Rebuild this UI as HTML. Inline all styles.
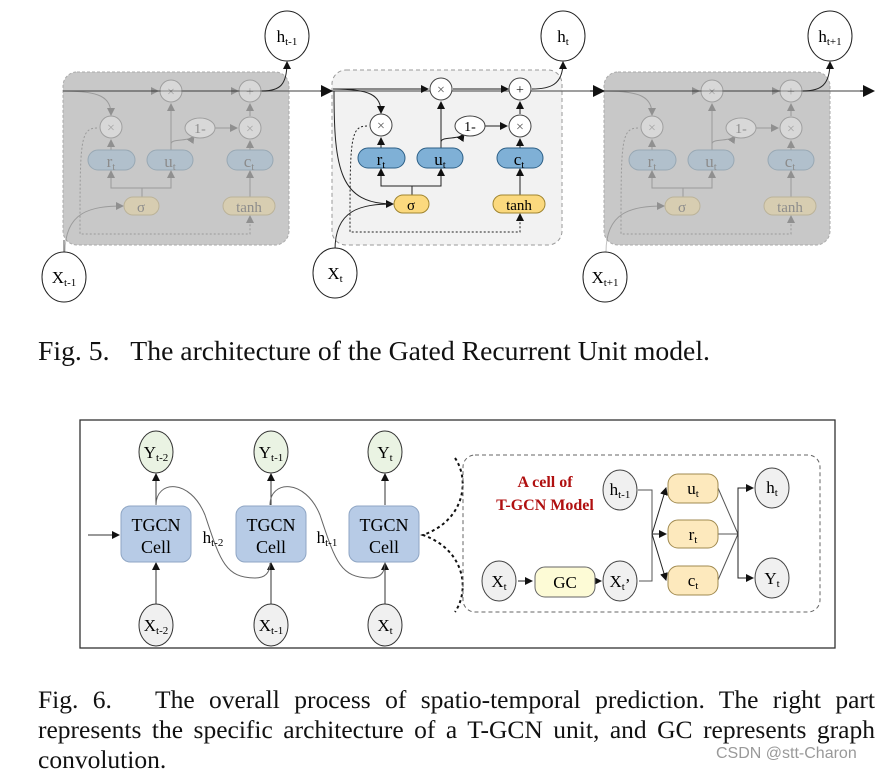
<!DOCTYPE html>
<html><head><meta charset="utf-8"><style>
html,body{margin:0;padding:0;background:#fff;}
body{width:892px;height:772px;overflow:hidden;position:relative;font-family:"Liberation Serif",serif;}
.cap{position:absolute;left:38px;font-size:25.5px;color:#111;line-height:30px;white-space:nowrap;}
</style></head><body>
<svg width="892" height="772" style="position:absolute;left:0;top:0" font-family="Liberation Serif, serif">
<defs>
<marker id="a" markerWidth="8" markerHeight="8" refX="7" refY="4" orient="auto" markerUnits="userSpaceOnUse"><path d="M0,0L8,4L0,8z" fill="#111"/></marker>
<marker id="b" markerWidth="12" markerHeight="12" refX="11" refY="6" orient="auto" markerUnits="userSpaceOnUse"><path d="M0,0L12,6L0,12z" fill="#111"/></marker>
</defs>

<rect x="63" y="72" width="226" height="173" rx="14" fill="#c8c8c8" stroke="#aaa" stroke-dasharray="3,2"/>
<rect x="604" y="72" width="226" height="173" rx="14" fill="#c8c8c8" stroke="#aaa" stroke-dasharray="3,2"/>
<rect x="332" y="70" width="230" height="175" rx="14" fill="#f2f2f2" stroke="#999" stroke-dasharray="4,3"/>

<line x1="63" y1="91" x2="870" y2="91" stroke="#666" stroke-width="1.3"/>
<path d="M320,91 L332,91" stroke="#111" marker-end="url(#b)"/>
<path d="M590,91 L604,91" stroke="#111" marker-end="url(#b)"/>
<path d="M860,91 L874,91" stroke="#111" marker-end="url(#b)"/>

<g transform="translate(-270,2)" opacity="0.3">
<g stroke="#333" fill="none" stroke-width="1">
<path d="M333,89 L428,89" marker-end="url(#a)"/><path d="M453,89 L508,89" marker-end="url(#a)"/>
<path d="M333,89 C370,89 381,95 381,113" marker-end="url(#a)"/>
<path d="M441,150 L441,102" marker-end="url(#a)"/><path d="M381,150 L381,138" marker-end="url(#a)"/>
<path d="M520,150 L520,139" marker-end="url(#a)"/><path d="M520,114 L520,102" marker-end="url(#a)"/>
<path d="M484,126 L507,126" marker-end="url(#a)"/><path d="M441,142 C441,136 460,140 464,134" marker-end="url(#a)"/>
<path d="M412,195 L412,186 L381,186 L381,169" marker-end="url(#a)"/><path d="M412,186 L441,186 L441,169" marker-end="url(#a)"/>
<path d="M520,195 L520,169" marker-end="url(#a)"/>
<path d="M335,250 C335,210 360,204 393,204" marker-end="url(#a)"/>
<path d="M367,126 C350,126 350,140 350,232 L520,232 L520,214" stroke-dasharray="2,2" marker-end="url(#a)"/>
</g>
<g stroke="#444" fill="#fff"><circle cx="441" cy="89" r="11"/><circle cx="520" cy="89" r="11"/><circle cx="381" cy="125" r="11"/><circle cx="520" cy="126" r="11"/><ellipse cx="470" cy="126" rx="15" ry="10"/></g>
<g font-size="14" text-anchor="middle" fill="#555"><text x="441" y="94">×</text><text x="520" y="94">+</text><text x="381" y="130">×</text><text x="520" y="131">×</text></g>
<text x="470" y="131" font-size="14" text-anchor="middle">1-</text>
<g stroke="#2c5f86" fill="#7fb0d6"><rect x="358" y="148" width="47" height="20" rx="10"/><rect x="417" y="148" width="46" height="20" rx="10"/><rect x="497" y="148" width="46" height="20" rx="10"/></g>
<g stroke="#a08530" fill="#fbd97e"><rect x="394" y="195" width="35" height="18" rx="9"/><rect x="493" y="195" width="52" height="18" rx="9"/></g>
<g font-size="17" text-anchor="middle"><text x="381" y="165">r<tspan font-size="11" dy="3">t</tspan></text><text x="440" y="165">u<tspan font-size="11" dy="3">t</tspan></text><text x="519" y="165">c<tspan font-size="11" dy="3">t</tspan></text><text x="411" y="210" font-size="15">σ</text><text x="519" y="210" font-size="15">tanh</text></g>
</g>
<g transform="translate(271,2)" opacity="0.3">
<g stroke="#333" fill="none" stroke-width="1">
<path d="M333,89 L428,89" marker-end="url(#a)"/><path d="M453,89 L508,89" marker-end="url(#a)"/>
<path d="M333,89 C370,89 381,95 381,113" marker-end="url(#a)"/>
<path d="M441,150 L441,102" marker-end="url(#a)"/><path d="M381,150 L381,138" marker-end="url(#a)"/>
<path d="M520,150 L520,139" marker-end="url(#a)"/><path d="M520,114 L520,102" marker-end="url(#a)"/>
<path d="M484,126 L507,126" marker-end="url(#a)"/><path d="M441,142 C441,136 460,140 464,134" marker-end="url(#a)"/>
<path d="M412,195 L412,186 L381,186 L381,169" marker-end="url(#a)"/><path d="M412,186 L441,186 L441,169" marker-end="url(#a)"/>
<path d="M520,195 L520,169" marker-end="url(#a)"/>
<path d="M335,250 C335,210 360,204 393,204" marker-end="url(#a)"/>
<path d="M367,126 C350,126 350,140 350,232 L520,232 L520,214" stroke-dasharray="2,2" marker-end="url(#a)"/>
</g>
<g stroke="#444" fill="#fff"><circle cx="441" cy="89" r="11"/><circle cx="520" cy="89" r="11"/><circle cx="381" cy="125" r="11"/><circle cx="520" cy="126" r="11"/><ellipse cx="470" cy="126" rx="15" ry="10"/></g>
<g font-size="14" text-anchor="middle" fill="#555"><text x="441" y="94">×</text><text x="520" y="94">+</text><text x="381" y="130">×</text><text x="520" y="131">×</text></g>
<text x="470" y="131" font-size="14" text-anchor="middle">1-</text>
<g stroke="#2c5f86" fill="#7fb0d6"><rect x="358" y="148" width="47" height="20" rx="10"/><rect x="417" y="148" width="46" height="20" rx="10"/><rect x="497" y="148" width="46" height="20" rx="10"/></g>
<g stroke="#a08530" fill="#fbd97e"><rect x="394" y="195" width="35" height="18" rx="9"/><rect x="493" y="195" width="52" height="18" rx="9"/></g>
<g font-size="17" text-anchor="middle"><text x="381" y="165">r<tspan font-size="11" dy="3">t</tspan></text><text x="440" y="165">u<tspan font-size="11" dy="3">t</tspan></text><text x="519" y="165">c<tspan font-size="11" dy="3">t</tspan></text><text x="411" y="210" font-size="15">σ</text><text x="519" y="210" font-size="15">tanh</text></g>
</g>
<g>
<g stroke="#222" fill="none" stroke-width="1">
<path d="M333,89 L428,89" marker-end="url(#a)"/><path d="M453,89 L508,89" marker-end="url(#a)"/>
<path d="M333,89 C370,89 381,95 381,113" marker-end="url(#a)"/>
<path d="M441,150 L441,102" marker-end="url(#a)"/><path d="M381,150 L381,138" marker-end="url(#a)"/>
<path d="M520,150 L520,139" marker-end="url(#a)"/><path d="M520,114 L520,102" marker-end="url(#a)"/>
<path d="M484,126 L507,126" marker-end="url(#a)"/><path d="M441,142 C441,136 460,140 464,134" marker-end="url(#a)"/>
<path d="M412,195 L412,186 L381,186 L381,169" marker-end="url(#a)"/><path d="M412,186 L441,186 L441,169" marker-end="url(#a)"/>
<path d="M520,195 L520,169" marker-end="url(#a)"/>
<path d="M335,250 C335,210 360,204 393,204" marker-end="url(#a)"/>
<path d="M334,91 C334,170 340,204 393,204"/>
<path d="M367,126 C350,126 350,140 350,232 L520,232 L520,214" stroke-dasharray="2,2" marker-end="url(#a)"/>
<path d="M532,89 C550,89 563,85 563,62" marker-end="url(#a)"/>
</g>
<g stroke="#444" fill="#fff"><circle cx="441" cy="89" r="11"/><circle cx="520" cy="89" r="11"/><circle cx="381" cy="125" r="11"/><circle cx="520" cy="126" r="11"/><ellipse cx="470" cy="126" rx="15" ry="10"/></g>
<g font-size="14" text-anchor="middle" fill="#555"><text x="441" y="94">×</text><text x="520" y="94" fill="#111">+</text><text x="381" y="130">×</text><text x="520" y="131">×</text></g>
<text x="470" y="131" font-size="14" text-anchor="middle">1-</text>
<g stroke="#2c5f86" fill="#7fb0d6"><rect x="358" y="148" width="47" height="20" rx="10"/><rect x="417" y="148" width="46" height="20" rx="10"/><rect x="497" y="148" width="46" height="20" rx="10"/></g>
<g stroke="#a08530" fill="#fbd97e"><rect x="394" y="195" width="35" height="18" rx="9"/><rect x="493" y="195" width="52" height="18" rx="9"/></g>
<g font-size="17" text-anchor="middle"><text x="381" y="165">r<tspan font-size="11" dy="3">t</tspan></text><text x="440" y="165">u<tspan font-size="11" dy="3">t</tspan></text><text x="519" y="165">c<tspan font-size="11" dy="3">t</tspan></text><text x="411" y="210" font-size="15">σ</text><text x="519" y="210" font-size="15">tanh</text></g>
</g>
<path d="M262,91 C280,91 287,85 287,62" stroke="#222" fill="none" marker-end="url(#a)"/>
<path d="M803,91 C821,91 830,85 830,62" stroke="#222" fill="none" marker-end="url(#a)"/>
<path d="M64,255 L64,240" stroke="#555"/>

<g stroke="#222" fill="#fff" stroke-width="1">
<ellipse cx="287" cy="36" rx="22" ry="25"/><ellipse cx="563" cy="36" rx="22" ry="25"/><ellipse cx="830" cy="36" rx="22" ry="25"/>
<ellipse cx="64" cy="277" rx="22" ry="25"/><ellipse cx="335" cy="273" rx="22" ry="25"/><ellipse cx="605" cy="277" rx="22" ry="25"/>
</g>
<g font-size="17" text-anchor="middle">
<text x="287" y="42">h<tspan font-size="11" dy="3">t-1</tspan></text>
<text x="563" y="42">h<tspan font-size="11" dy="3">t</tspan></text>
<text x="830" y="42">h<tspan font-size="11" dy="3">t+1</tspan></text>
<text x="64" y="283">X<tspan font-size="11" dy="3">t-1</tspan></text>
<text x="335" y="279">X<tspan font-size="11" dy="3">t</tspan></text>
<text x="605" y="283">X<tspan font-size="11" dy="3">t+1</tspan></text>
</g>

<rect x="80" y="420" width="755" height="228" fill="#fff" stroke="#333" stroke-width="1.3"/>
<g stroke="#666" fill="none" stroke-width="1">
<path d="M88,535 L119,535" stroke="#333" marker-end="url(#a)"/>
<path d="M156,505 L156,474" stroke="#333" marker-end="url(#a)"/>
<path d="M271,505 L271,474" stroke="#333" marker-end="url(#a)"/>
<path d="M385,505 L385,474" stroke="#333" marker-end="url(#a)"/>
<path d="M156,605 L156,563" stroke="#333" marker-end="url(#a)"/>
<path d="M271,605 L271,563" stroke="#333" marker-end="url(#a)"/>
<path d="M385,605 L385,563" stroke="#333" marker-end="url(#a)"/>
<path d="M156,505 C156,480 190,478 205,515 C220,560 225,578 255,578 C266,578 270,572 270,563"/>
<path d="M270,505 C270,480 305,478 320,515 C335,560 340,578 370,578 C381,578 385,572 385,563"/>
</g>
<g stroke="#333" fill="#eaf3e3"><ellipse cx="156" cy="452" rx="17" ry="21"/><ellipse cx="271" cy="452" rx="17" ry="21"/><ellipse cx="385" cy="452" rx="17" ry="21"/></g>
<g stroke="#333" fill="#f0f0f0"><ellipse cx="156" cy="625" rx="17" ry="21"/><ellipse cx="271" cy="625" rx="17" ry="21"/><ellipse cx="385" cy="625" rx="17" ry="21"/></g>
<g stroke="#8fa6c4" fill="#b7cbe6"><rect x="121" y="506" width="70" height="56" rx="9"/><rect x="236" y="506" width="70" height="56" rx="9"/><rect x="349" y="506" width="70" height="56" rx="9"/></g>
<g font-size="17" text-anchor="middle">
<text x="156" y="458">Y<tspan font-size="11" dy="3">t-2</tspan></text><text x="271" y="458">Y<tspan font-size="11" dy="3">t-1</tspan></text><text x="385" y="458">Y<tspan font-size="11" dy="3">t</tspan></text>
<text x="156" y="631">X<tspan font-size="11" dy="3">t-2</tspan></text><text x="271" y="631">X<tspan font-size="11" dy="3">t-1</tspan></text><text x="385" y="631">X<tspan font-size="11" dy="3">t</tspan></text>
<g font-size="18"><text x="156" y="531">TGCN</text><text x="156" y="553">Cell</text><text x="271" y="531">TGCN</text><text x="271" y="553">Cell</text><text x="384" y="531">TGCN</text><text x="384" y="553">Cell</text></g>
<text x="213" y="543">h<tspan font-size="11" dy="3">t-2</tspan></text><text x="327" y="543">h<tspan font-size="11" dy="3">t-1</tspan></text>
</g>
<path d="M455,458 C470,480 465,520 423,535 C465,550 470,590 455,612" stroke="#111" stroke-width="2" fill="none" stroke-dasharray="3,3"/>
<rect x="463" y="455" width="357" height="157" rx="12" fill="none" stroke="#666" stroke-dasharray="4,3"/>
<g font-size="16" font-weight="bold" fill="#b01010" text-anchor="middle"><text x="545" y="487">A cell of</text><text x="545" y="510">T-GCN Model</text></g>
<g stroke="#555" fill="none">
<path d="M518,581 L532,581" stroke="#222" marker-end="url(#a)"/>
<path d="M596,581 L601,581" stroke="#222" marker-end="url(#a)"/>
<path d="M638,490 L652,490 L652,581 L639,581"/>
<path d="M652,534 L666,488" stroke="#222" marker-end="url(#a)"/>
<path d="M652,534 L666,534" stroke="#222" marker-end="url(#a)"/>
<path d="M652,534 L666,580" stroke="#222" marker-end="url(#a)"/>
<path d="M718,488 L738,534 M718,534 L738,534 M718,580 L738,534"/>
<path d="M738,534 L738,488 L753,488" stroke="#222" marker-end="url(#a)"/>
<path d="M738,534 L738,578 L753,578" stroke="#222" marker-end="url(#a)"/>
</g>
<g stroke="#444" fill="#f0f0f0"><ellipse cx="620" cy="490" rx="17" ry="20"/><ellipse cx="499" cy="581" rx="17" ry="20"/><ellipse cx="620" cy="581" rx="17" ry="20"/><ellipse cx="772" cy="488" rx="17" ry="20"/><ellipse cx="772" cy="578" rx="17" ry="20"/></g>
<rect x="535" y="567" width="60" height="30" rx="10" fill="#fdfbd6" stroke="#666"/>
<g stroke="#a08a50" fill="#fde9bd"><rect x="668" y="474" width="50" height="29" rx="10"/><rect x="668" y="520" width="50" height="28" rx="10"/><rect x="668" y="566" width="50" height="29" rx="10"/></g>
<g font-size="17" text-anchor="middle">
<text x="620" y="495">h<tspan font-size="11" dy="3">t-1</tspan></text><text x="499" y="587">X<tspan font-size="11" dy="3">t</tspan></text><text x="620" y="587">X<tspan font-size="11" dy="3">t</tspan>’</text>
<text x="565" y="588">GC</text>
<text x="693" y="494">u<tspan font-size="11" dy="3">t</tspan></text><text x="693" y="540">r<tspan font-size="11" dy="3">t</tspan></text><text x="693" y="586">c<tspan font-size="11" dy="3">t</tspan></text>
<text x="772" y="493">h<tspan font-size="11" dy="3">t</tspan></text><text x="772" y="584">Y<tspan font-size="11" dy="3">t</tspan></text>
</g>
</svg>
<div class="cap" style="top:336px;font-size:27.7px">Fig. 5.&nbsp;&nbsp;&nbsp;The architecture of the Gated Recurrent Unit model.</div>
<div class="cap" style="top:685px;width:837px;text-align:justify;text-align-last:justify">Fig. 6.&nbsp;&nbsp;&nbsp;The overall process of spatio-temporal prediction. The right part</div>
<div class="cap" style="top:715px;width:837px;text-align:justify;text-align-last:justify">represents the specific architecture of a T-GCN unit, and GC represents graph</div>
<div class="cap" style="top:745px">convolution.</div>
<div style="position:absolute;left:716px;top:745px;font-family:'Liberation Sans',sans-serif;font-size:16px;color:#999">CSDN @stt-Charon</div>
</body></html>
